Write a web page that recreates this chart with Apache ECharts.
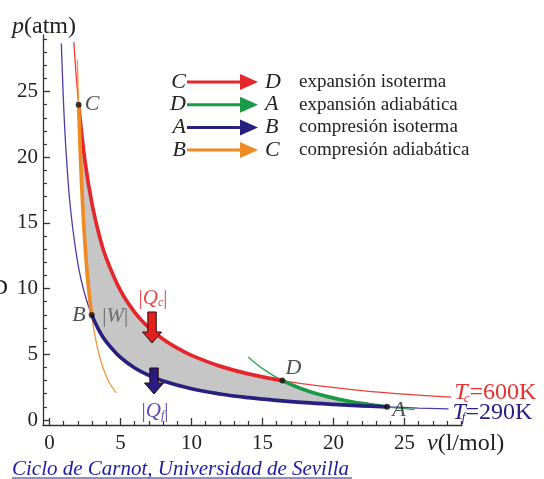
<!DOCTYPE html>
<html><head><meta charset="utf-8">
<script src="https://cdn.jsdelivr.net/npm/echarts@6/dist/echarts.min.js"></script>
<style>html,body{margin:0;padding:0;background:#fff}#c{width:544px;height:479px}</style>
</head><body><div id="c"></div>
<script>
// ---- data ----
const hotV = [1.71, 2.05, 2.5, 3, 3.5, 4, 5, 6, 7, 8, 9, 10, 12, 14, 16.4, 19, 22, 25, 28.3];
const hotP = [28.77, 24.0, 19.68, 16.4, 14.06, 12.3, 9.84, 8.2, 7.03, 6.15, 5.47, 4.92, 4.1, 3.51, 3.0, 2.59, 2.24, 1.97, 1.74];
const coldV = [0.83, 1.0, 1.2, 1.5, 2.0, 2.5, 2.97, 3.5, 4, 5, 6, 7, 8, 10, 12, 14, 16, 18, 20, 22, 23.78, 26, 28.1];
const coldP = [28.65, 23.78, 19.82, 15.85, 11.89, 9.51, 8.0, 6.79, 5.95, 4.76, 3.96, 3.40, 2.97, 2.38, 1.98, 1.70, 1.49, 1.32, 1.19, 1.08, 1.0, 0.91, 0.85];
const adiaBCV = [1.96, 2.05, 2.2, 2.4, 2.6, 2.8, 2.97, 3.2, 3.5, 3.8, 4.2, 4.7];
const adiaBCP = [27.4, 24.0, 19.47, 15.05, 11.87, 9.54, 8.0, 6.42, 4.93, 3.86, 2.87, 2.06];
const adiaDAV = [14.0, 15.0, 16.4, 18.0, 19.5, 21.0, 22.5, 23.78, 25.7];
const adiaDAP = [4.79, 3.91, 3.0, 2.28, 1.80, 1.44, 1.18, 1.0, 0.79];
const stateNames = ['A', 'B', 'C', 'D'];
const stateV = [23.78, 2.97, 2.05, 16.4];
const stateP = [1.0, 8.0, 24.0, 3.0];
const arrowNames = ['c', 'f'];
const arrowV = [7.22, 7.36];
const arrowTopP = [8.22, 3.96];
const arrowTipP = [5.86, 1.98];
const xMajorTicks = [0, 5, 10, 15, 20, 25];
const yMajorTicks = [0, 5, 10, 15, 20, 25];
const xMinorTicks = [1,2,3,4,6,7,8,9,11,12,13,14,16,17,18,19,21,22,23,24,26,27,28,29];
const yMinorTicks = [1,2,3,4,6,7,8,9,11,12,13,14,16,17,18,19,21,22,23,24,26,27,28,29];
const hotLabel = ['T', 'c', '=600K'];
const coldLabel = ['T', 'f', '=290K'];
const legendFrom = ['C', 'D', 'A', 'B'];
const legendTo = ['D', 'A', 'B', 'C'];
const legendText = ['expansión isoterma', 'expansión adiabática', 'compresión isoterma', 'compresión adiabática'];
const xTitle = ['v', '(l/mol)'];
const yTitle = ['p', '(atm)'];
const sourceText = 'Ciclo de Carnot, Universidad de Sevilla';

// ---- styles ----
const SERIF = '"Liberation Serif", "DejaVu Serif", serif';
const RED = '#e5262a', RED_T = '#ee3c3c';
const BLUE = '#27207f', BLUE_T = '#4b3ca8';
const GREEN = '#1a9a48', GREEN_T = '#2aa856';
const ORANGE = '#f08a22', ORANGE_T = '#f3963a';
const legendColors = [RED, GREEN, BLUE, ORANGE];

function pts(vs, ps) { return vs.map((v, i) => [v, ps[i]]); }
function seg(vs, ps, a, b) {
  const lo = Math.min(a, b) - 1e-9, hi = Math.max(a, b) + 1e-9;
  return pts(vs, ps).filter(p => p[0] >= lo && p[0] <= hi);
}
const S = {}; stateNames.forEach((n, i) => S[n] = [stateV[i], stateP[i]]);
const hotThick = seg(hotV, hotP, S.C[0], S.D[0]);
const daThick = seg(adiaDAV, adiaDAP, S.D[0], S.A[0]);
const coldThick = seg(coldV, coldP, S.B[0], S.A[0]);
const bcThick = seg(adiaBCV, adiaBCP, S.B[0], S.C[0]);
const cycle = [].concat(hotThick, daThick, coldThick.slice().reverse(), bcThick.slice().reverse());

function line(name, data, color, width, z, extra) {
  return Object.assign({
    type: 'line', name, data, showSymbol: false, symbol: 'none', smooth: 0.4, z,
    lineStyle: { color, width }, silent: true, clip: true
  }, extra || {});
}

function subRich(color) {
  return {
    t: { fontFamily: SERIF, fontStyle: 'italic', fontSize: 24, color, verticalAlign: 'bottom', lineHeight: 25 },
    s: { fontFamily: SERIF, fontStyle: 'italic', fontSize: 13, color, verticalAlign: 'bottom', lineHeight: 25, padding: [0, 0, 0, -4] },
    n: { fontFamily: SERIF, fontSize: 24, color, verticalAlign: 'bottom', lineHeight: 25 }
  };
}

const legendGraphics = [];
legendFrom.forEach((f, i) => {
  const y = 82 + i * 22.7;
  legendGraphics.push(
    { type: 'text', x: 186, y, style: { text: f, font: 'italic 22px ' + SERIF, fill: '#222', align: 'right', verticalAlign: 'middle' } },
    { type: 'line', shape: { x1: 187, y1: y, x2: 243, y2: y }, style: { stroke: legendColors[i], lineWidth: 3 } },
    { type: 'polygon', shape: { points: [[240, y - 8], [258, y], [240, y + 8]] }, style: { fill: legendColors[i] } },
    { type: 'text', x: 265, y, style: { text: legendTo[i], font: 'italic 22px ' + SERIF, fill: '#222', align: 'left', verticalAlign: 'middle' } },
    { type: 'text', x: 299, y, style: { text: legendText[i], font: '19px ' + SERIF, fill: '#222', align: 'left', verticalAlign: 'middle' } }
  );
});

const chart = echarts.init(document.getElementById('c'), null, { renderer: 'canvas' });
const axisCol = '#333';
const titleRich = { i: { fontFamily: SERIF, fontStyle: 'italic', fontSize: 24, fill: '#222' }, r: { fontFamily: SERIF, fontSize: 24, fill: '#222' } };
const option = {
  animation: false,
  backgroundColor: '#fff',
  grid: { left: 43, right: 82, top: 35, bottom: 54, containLabel: false },
  xAxis: [
    { type: 'value', min: -0.46, max: 29.05, position: 'bottom',
      axisLine: { show: true, onZero: false, lineStyle: { color: axisCol, width: 1.3 } },
      axisTick: { show: true, inside: true, length: 7, customValues: xMajorTicks, lineStyle: { color: axisCol, width: 1.3 } },
      axisLabel: { show: true, customValues: xMajorTicks, margin: 8, fontFamily: SERIF, fontSize: 21, color: '#222' },
      splitLine: { show: false } },
    { type: 'value', min: -0.46, max: 29.05, position: 'bottom',
      axisLine: { show: false, onZero: false },
      axisTick: { show: true, inside: true, length: 4, customValues: xMinorTicks, lineStyle: { color: axisCol, width: 1.2 } },
      axisLabel: { show: false }, splitLine: { show: false } }
  ],
  yAxis: [
    { type: 'value', min: -0.38, max: 29.3, position: 'left',
      axisLine: { show: true, onZero: false, lineStyle: { color: axisCol, width: 1.3 } },
      axisTick: { show: true, inside: true, length: 7, customValues: yMajorTicks, lineStyle: { color: axisCol, width: 1.3 } },
      axisLabel: { show: true, customValues: yMajorTicks, margin: 5, fontFamily: SERIF, fontSize: 21, color: '#222' },
      splitLine: { show: false } },
    { type: 'value', min: -0.38, max: 29.3, position: 'left',
      axisLine: { show: false, onZero: false },
      axisTick: { show: true, inside: true, length: 4, customValues: yMinorTicks, lineStyle: { color: axisCol, width: 1.2 } },
      axisLabel: { show: false }, splitLine: { show: false } }
  ],
  graphic: [
    { type: 'text', x: 12, y: 27, style: { text: '{i|' + yTitle[0] + '}{r|' + yTitle[1] + '}', verticalAlign: 'middle', rich: titleRich } },
    { type: 'text', x: 427, y: 444, style: { text: '{i|' + xTitle[0] + '}{r|' + xTitle[1] + '}', verticalAlign: 'middle', rich: titleRich } },
    { type: 'text', x: -8, y: 288, style: { text: 'D', font: '22px ' + SERIF, fill: '#111', verticalAlign: 'middle' } },
    { type: 'text', x: 12, y: 469, style: { text: sourceText, font: 'italic 21px ' + SERIF, fill: '#1c1ca6', verticalAlign: 'middle' } },
    { type: 'line', shape: { x1: 12, y1: 478, x2: 352, y2: 478 }, style: { stroke: '#1c1ca6', lineWidth: 1 } }
  ].concat(legendGraphics),
  series: [
    { type: 'custom', name: 'cycle', coordinateSystem: 'cartesian2d', data: [[0, 0]], z: 1, silent: true,
      renderItem: (params, api) => ({ type: 'polygon', shape: { points: cycle.map(p => api.coord(p)) }, style: { fill: '#c6c6c6' } }) },
    line('Tc thin', pts(hotV, hotP), RED_T, 1.3, 3, {
      endLabel: { show: true, distance: 3, offset: [0, -5],
        formatter: () => '{t|' + hotLabel[0] + '}{s|' + hotLabel[1] + '}{n|' + hotLabel[2] + '}', rich: subRich('#e8302e') } }),
    line('Tf thin', pts(coldV, coldP), BLUE_T, 1.3, 3, {
      endLabel: { show: true, distance: 4, offset: [0, 3],
        formatter: () => '{t|' + coldLabel[0] + '}{s|' + coldLabel[1] + '}{n|' + coldLabel[2] + '}', rich: subRich('#2a2283') } }),
    line('BC thin', pts(adiaBCV, adiaBCP), ORANGE_T, 1.3, 3),
    line('DA thin', pts(adiaDAV, adiaDAP), GREEN_T, 1.3, 3),
    line('CD', hotThick, RED, 3.7, 4),
    line('DA', daThick, GREEN, 3.7, 4),
    line('AB', coldThick, BLUE, 3.7, 4),
    line('BC', bcThick, ORANGE, 3.7, 4),
    { type: 'scatter', name: 'states', z: 6, symbolSize: 6, itemStyle: { color: '#111' }, silent: true,
      data: stateNames.map((n, i) => {
        const lab = { A: { position: 'right', distance: 2, offset: [0, 3] },
                      B: { position: 'left', distance: 3, offset: [0, 0] },
                      C: { position: 'right', distance: 3, offset: [0, 0] },
                      D: { position: 'right', distance: 0, offset: [0, -12] } }[n];
        return { value: [stateV[i], stateP[i]], name: n,
          label: Object.assign({ show: true, formatter: n, fontFamily: SERIF, fontStyle: 'italic', fontSize: 22, color: '#222' }, lab) };
      }) },
    { type: 'scatter', name: 'work', z: 6, symbolSize: 1, itemStyle: { color: 'rgba(0,0,0,0)' }, silent: true,
      data: [{ value: S.B, label: { show: true, position: 'right', distance: 10, offset: [0, 2], formatter: '{b||}{w|W}{b||}',
        rich: { b: { fontFamily: SERIF, fontSize: 21, color: '#555' }, w: { fontFamily: SERIF, fontStyle: 'italic', fontSize: 21, color: '#555' } } } }] },
    { type: 'custom', name: 'heat', coordinateSystem: 'cartesian2d', z: 7, silent: true,
      data: arrowNames.map((n, i) => [arrowV[i], arrowTopP[i], arrowTipP[i], i]),
      renderItem: (params, api) => {
        const v = api.value(0), k = api.value(3);
        const a = api.coord([v, api.value(1)]), b = api.coord([v, api.value(2)]);
        const sw = 4.2, hw = 9.5, hl = 11, x = a[0];
        const poly = [[x - sw, a[1]], [x + sw, a[1]], [x + sw, b[1] - hl], [x + hw, b[1] - hl], [x, b[1]], [x - hw, b[1] - hl], [x - sw, b[1] - hl]];
        const fill = k === 0 ? '#e2211f' : '#2a1b80';
        const tcol = k === 0 ? '#e8484a' : '#5b4bb5';
        const ty = k === 0 ? a[1] - 15 : b[1] + 16;
        return { type: 'group', children: [
          { type: 'polygon', shape: { points: poly }, style: { fill, stroke: '#2a0c0c', lineWidth: 1 } },
          { type: 'text', x: x + 1, y: ty, style: { text: '{b||}{q|Q}{s|' + arrowNames[k] + '}{b||}', align: 'center', verticalAlign: 'middle', fill: tcol,
            rich: { b: { fontFamily: SERIF, fontSize: 21, fill: tcol, verticalAlign: 'bottom', lineHeight: 24 },
                    q: { fontFamily: SERIF, fontStyle: 'italic', fontSize: 21, fill: tcol, verticalAlign: 'bottom', lineHeight: 24 },
                    s: { fontFamily: SERIF, fontStyle: 'italic', fontSize: 12, fill: tcol, verticalAlign: 'bottom', lineHeight: 24 } } } }
        ] };
      } }
  ]
};
chart.setOption(option);
</script></body></html>
